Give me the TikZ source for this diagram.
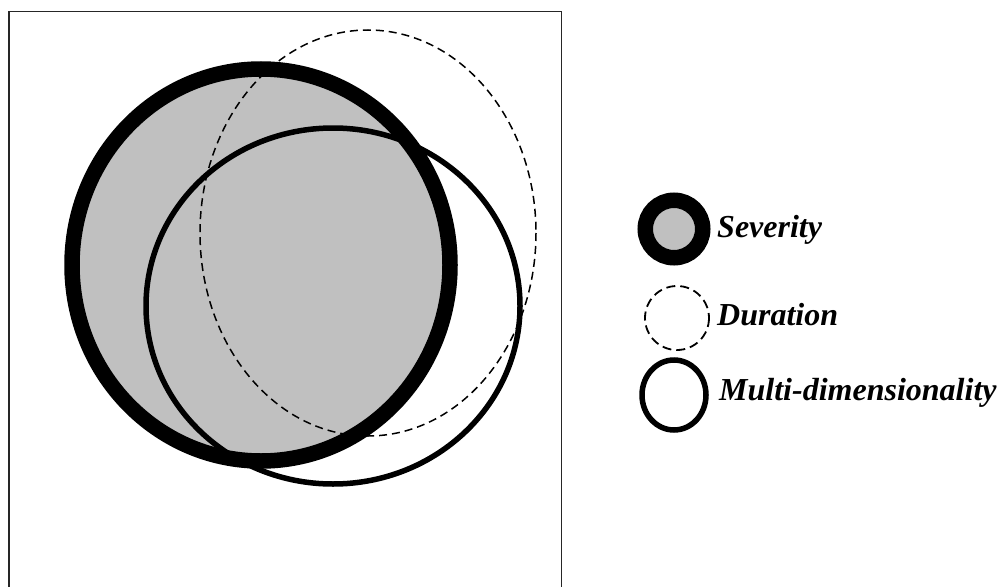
\documentclass[tikz,border=0pt]{standalone}
\usepackage{fontspec}
\setmainfont{Liberation Serif}
\definecolor{sevgray}{HTML}{C0C0C0}
\tikzset{
  sevring/.style={draw=black, line width=15.5pt, fill=sevgray},
  durline/.style={draw=black, line width=1.5pt, dash pattern=on 8pt off 5pt},
  multiline/.style={draw=black, line width=5.5pt},
  legendtext/.style={anchor=base west, inner sep=0pt,
    font=\fontsize{32}{38}\selectfont\bfseries\itshape},
}
\begin{document}
\begin{tikzpicture}[x=1pt, y=-1pt]
  \useasboundingbox (0,0) rectangle (998,586);
  \begin{scope}
    \clip (0,0) rectangle (998,586);
    % open frame around the diagram
    \draw[line width=1.8pt, black!85] (9,600) -- (9,11.5) -- (561.5,11.5) -- (561.5,600);
  \end{scope}

  % Severity fill
  \fill[sevgray] (261,265) ellipse [x radius=189, y radius=196];
  % Duration
  \draw[durline] (368,233) ellipse [x radius=168, y radius=203];
  % Multi-dimensionality
  \draw[multiline] (333,306) ellipse [x radius=187, y radius=178];
  % Severity outline on top
  \draw[draw=black, line width=15.5pt] (261,265) ellipse [x radius=189, y radius=196];

  % legend
  \draw[sevring] (674,229) circle [radius=28.75];
  \node[legendtext] (sevlab) at (717,237) {Severity};
  \draw[durline, line width=1.8pt, dash pattern=on 9pt off 5pt] (677,318) circle [radius=32];
  \node[legendtext] (durlab) at (717,325) {Duration};
  \draw[multiline] (674,395) ellipse [x radius=32, y radius=35];
  \node[legendtext] (multlab) at (719,400) {Multi-dimensionality};
\end{tikzpicture}
\end{document}
